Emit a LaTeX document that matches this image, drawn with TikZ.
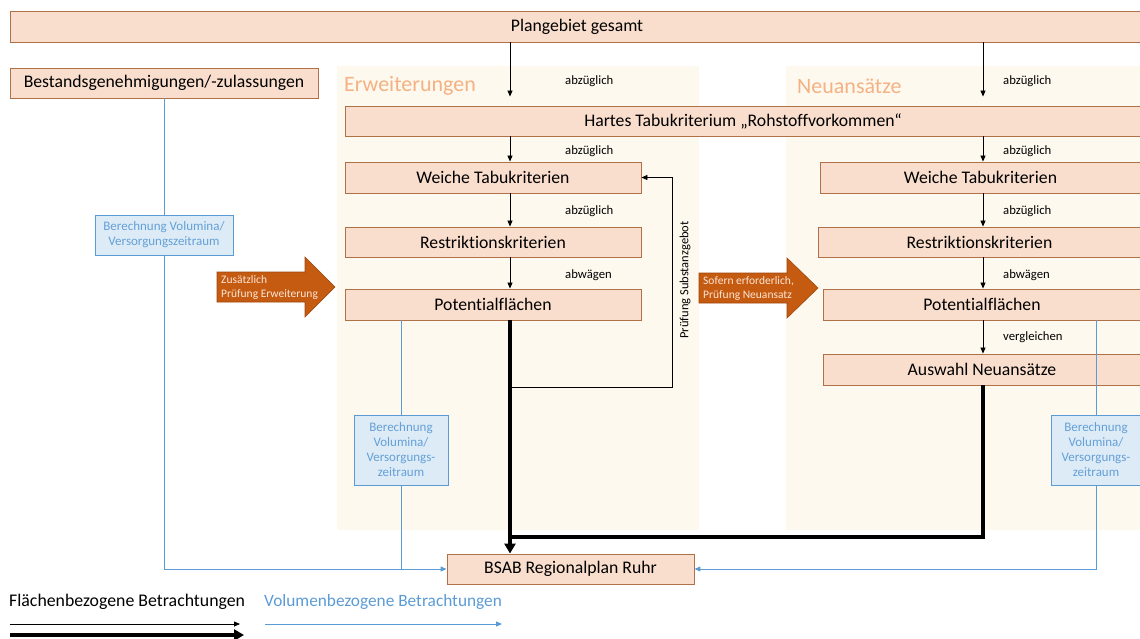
\documentclass[tikz,border=0pt]{standalone}
\usepackage{fontspec}
\setmainfont{Carlito}[Ligatures=NoCommon]
\usetikzlibrary{arrows.meta}
\definecolor{boxfill}{RGB}{250,222,205}
\definecolor{boxline}{RGB}{176,112,72}
\definecolor{panel}{RGB}{254,249,238}
\definecolor{headcol}{RGB}{244,177,131}
\definecolor{volline}{RGB}{91,155,213}
\definecolor{volfill}{RGB}{221,235,247}
\definecolor{voltext}{RGB}{100,160,215}
\definecolor{pfeil}{RGB}{197,90,17}
\definecolor{pfeiltext}{RGB}{252,230,214}

\begin{document}
\begin{tikzpicture}
[x=1pt,y=-1pt,%
  every node/.style={inner sep=0pt},%
  box/.style={draw=boxline,fill=boxfill,line width=0.9pt,font=\fontsize{17.7}{21}\selectfont},%
  volbox/.style={draw=volline,fill=volfill,line width=0.8pt,text=voltext,align=center,font=\fontsize{13}{15}\selectfont},%
  panelbox/.style={fill=panel},%
  head/.style={anchor=west,text=headcol,font=\fontsize{22}{26}\selectfont},%
  lbl/.style={anchor=west,font=\fontsize{12.7}{14}\selectfont},%
  flow/.style={line width=0.8pt,-{Triangle[length=6pt,width=5pt]}},%
  bigflow/.style={line width=3.5pt,-{Triangle[length=10pt,width=11pt]}},%
  vol/.style={draw=volline,line width=1pt},%
  volflow/.style={vol,-{Triangle[length=6pt,width=5pt]}},%
  pfeilbox/.style={fill=pfeil,draw=pfeil!80!black,line width=0.6pt},%
  pfeillbl/.style={anchor=west,align=left,text=pfeiltext,font=\fontsize{11.5}{14}\selectfont}]
\useasboundingbox (0,0) rectangle (1140,639);

\node[panelbox,minimum width=362pt,minimum height=464pt] (panelE) at (518,298) {};
\node[panelbox,minimum width=359pt,minimum height=464pt] (panelN) at (965.5,298) {};
\node[head] (headE) at (344,86) {Erweiterungen};
\node[head] (headN) at (797,86) {Neuansätze};

\coordinate (axE) at (510,0);
\coordinate (axN) at (983,0);

\node[box,minimum width=1134pt,minimum height=31pt] (plan) at (577,26.5) {Plangebiet gesamt};
\node[box,minimum width=308pt,minimum height=30pt] (bestand) at (164,83) {Bestandsgenehmigungen/-zulassungen};
\node[box,minimum width=796pt,minimum height=30pt] (hart) at (743,121) {Hartes Tabukriterium „Rohstoffvorkommen“};

\node[box,minimum width=296pt,minimum height=31pt] (weicheE) at (493,177.5) {Weiche Tabukriterien};
\node[box,minimum width=296pt,minimum height=30pt] (restrE) at (493,242) {Restriktionskriterien};
\node[box,minimum width=296pt,minimum height=31pt] (potE) at (493,304.5) {Potentialflächen};

\node[box,minimum width=321pt,minimum height=31pt] (weicheN) at (980.5,177.5) {Weiche Tabukriterien};
\node[box,minimum width=323pt,minimum height=30pt] (restrN) at (979.5,242) {Restriktionskriterien};
\node[box,minimum width=318pt,minimum height=31pt] (potN) at (982,304.5) {Potentialflächen};
\node[box,minimum width=318pt,minimum height=31pt] (auswahl) at (982,369.5) {Auswahl Neuansätze};

\node[box,minimum width=247pt,minimum height=30pt] (bsab) at (570.5,569) {BSAB Regionalplan Ruhr};

\node[volbox,minimum width=138pt,minimum height=40pt] (volA) at (164,235) {Berechnung Volumina/\\Versorgungszeitraum};
\node[volbox,minimum width=94pt,minimum height=70pt] (volB) at (401,450) {Berechnung\\Volumina/\\Versorgungs-\\zeitraum};
\node[volbox,minimum width=90pt,minimum height=70pt] (volC) at (1096,450) {Berechnung\\Volumina/\\Versorgungs-\\zeitraum};

\fill[pfeilbox] (217,272) -- (305,272) -- (305,257) -- (335,287) -- (305,317) -- (305,302) -- (217,302) -- cycle;
\node[pfeillbl] (zusatz) at (221,287) {Zusätzlich\\Prüfung Erweiterung};
\fill[pfeilbox] (699,273) -- (787,273) -- (787,258) -- (818,288) -- (787,318) -- (787,303) -- (699,303) -- cycle;
\node[pfeillbl] (sofern) at (703,288) {Sofern erforderlich,\\Prüfung Neuansatz};

\draw[flow,shorten >=9pt] (plan.south -| axE) -- (hart.north -| axE);
\draw[flow,shorten >=9pt] (plan.south -| axN) -- (hart.north -| axN);
\draw[flow] (hart.south -| axE) -- (weicheE.north -| axE);
\draw[flow] (weicheE.south -| axE) -- (restrE.north -| axE);
\draw[flow] (restrE.south -| axE) -- (potE.north -| axE);
\draw[flow] (hart.south -| axN) -- (weicheN.north -| axN);
\draw[flow] (weicheN.south -| axN) -- (restrN.north -| axN);
\draw[flow] (restrN.south -| axN) -- (potN.north -| axN);
\draw[flow] (potN.south -| axN) -- (auswahl.north -| axN);

\node[lbl] (abz1) at (565,81) {abzüglich};
\node[lbl] (abz2) at (565,151) {abzüglich};
\node[lbl] (abz3) at (565,211) {abzüglich};
\node[lbl] (abw1) at (565,275) {abwägen};
\node[lbl] (abz4) at (1003,81) {abzüglich};
\node[lbl] (abz5) at (1003,151) {abzüglich};
\node[lbl] (abz6) at (1003,211) {abzüglich};
\node[lbl] (abw2) at (1003,275) {abwägen};
\node[lbl] (vergl) at (1003,337) {vergleichen};

\coordinate (fb) at (672,387);
\draw[flow] (axE |- fb) -- (fb) |- (weicheE.east);
\node[font=\fontsize{12.5}{14}\selectfont,rotate=90] (subst) at (685,280) {Prüfung Substanzgebot};

\coordinate (join) at (510,537);
\draw[bigflow] (potE.south -| axE) -- (bsab.north -| axE);
\draw[line width=3.5pt] (auswahl.south -| axN) |- (join);

\draw[vol] (bestand.south) -- (volA.north);
\draw[volflow] (volA.south) |- (bsab.west);
\draw[vol] (potE.south -| volB) -- (volB.north);
\draw[vol] (volB.south) -- (volB.south |- bsab.west);
\draw[vol] (potN.south -| volC) -- (volC.north);
\draw[volflow] (volC.south) |- (bsab.east);

\node[anchor=west,font=\fontsize{17.8}{20}\selectfont] (legF) at (9,602) {Flächenbezogene Betrachtungen};
\node[anchor=west,text=volline,font=\fontsize{17.3}{20}\selectfont] (legV) at (264,602) {Volumenbezogene Betrachtungen};
\coordinate (f1) at (10,624);
\coordinate (f2) at (240,624);
\coordinate (g1) at (10,635);
\coordinate (g2) at (244,635);
\coordinate (v1) at (265,624);
\coordinate (v2) at (502,624);
\draw[flow] (f1) -- (f2);
\draw[bigflow] (g1) -- (g2);
\draw[volflow] (v1) -- (v2);
\end{tikzpicture}
\end{document}
